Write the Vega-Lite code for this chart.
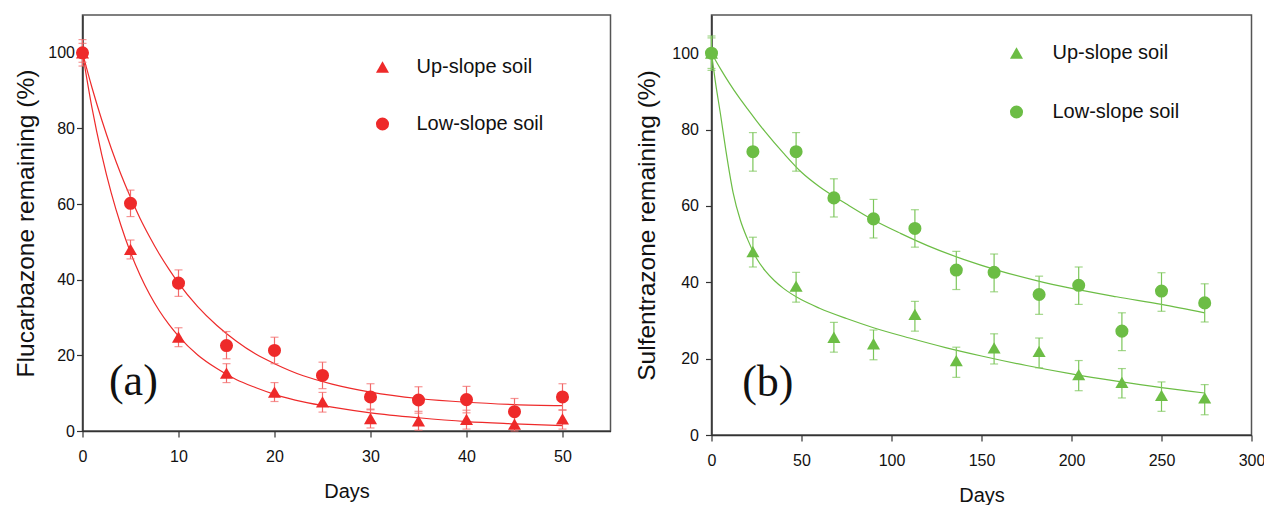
{
  "$schema": "https://vega.github.io/schema/vega-lite/v6.json",
  "padding": {"left": 12.5, "top": 14, "right": 0, "bottom": 0},
  "background": "white",
  "spacing": 22,
  "resolve": {"scale": {"shape": "independent"}, "legend": {"shape": "independent"}},
  "config": {
    "font": "Liberation Sans",
    "view": {"stroke": "#555", "strokeWidth": 1.5},
    "axis": {"grid": false, "domainColor": "#333", "domainWidth": 1.5, "tickColor": "#333", "tickWidth": 1.2, "tickSize": 6,
      "labelFont": "Liberation Sans", "labelFontSize": 16, "labelColor": "#111", "labelFlush": false,
      "titleFont": "Liberation Sans", "titleFontWeight": "normal", "titleColor": "#111"},
    "axisX": {"titleFontSize": 20, "labelPadding": 11, "titlePadding": 17},
    "axisY": {"titleFontSize": 24.5},
    "legend": {"labelFont": "Liberation Sans", "labelFontSize": 20, "labelColor": "#111", "symbolSize": 170, "padding": 0, "symbolStrokeWidth": 0}
  },
  "datasets": {
    "a_pts": [
      {"soil": "Up-slope soil", "day": 0, "value": 100, "lo": 97.5, "hi": 102.5},
      {"soil": "Up-slope soil", "day": 5, "value": 48, "lo": 45.5, "hi": 50.5},
      {"soil": "Up-slope soil", "day": 10, "value": 24.8, "lo": 22.3, "hi": 27.3},
      {"soil": "Up-slope soil", "day": 15, "value": 15.3, "lo": 12.8, "hi": 17.8},
      {"soil": "Up-slope soil", "day": 20, "value": 10.3, "lo": 7.8, "hi": 12.8},
      {"soil": "Up-slope soil", "day": 25, "value": 7.7, "lo": 5.0, "hi": 10.2},
      {"soil": "Up-slope soil", "day": 30, "value": 3.3, "lo": 0.8, "hi": 5.8},
      {"soil": "Up-slope soil", "day": 35, "value": 2.7, "lo": 0.2, "hi": 5.2},
      {"soil": "Up-slope soil", "day": 40, "value": 3.1, "lo": 0.5, "hi": 5.5},
      {"soil": "Up-slope soil", "day": 45, "value": 1.8, "lo": 0, "hi": 4.3},
      {"soil": "Up-slope soil", "day": 50, "value": 3.2, "lo": 0.5, "hi": 5.6},
      {"soil": "Low-slope soil", "day": 0, "value": 100, "lo": 96.5, "hi": 103.5},
      {"soil": "Low-slope soil", "day": 5, "value": 60.2, "lo": 56.7, "hi": 63.7},
      {"soil": "Low-slope soil", "day": 10, "value": 39.1, "lo": 35.6, "hi": 42.6},
      {"soil": "Low-slope soil", "day": 15, "value": 22.6, "lo": 19.1, "hi": 26.3},
      {"soil": "Low-slope soil", "day": 20, "value": 21.3, "lo": 17.8, "hi": 24.8},
      {"soil": "Low-slope soil", "day": 25, "value": 14.7, "lo": 11.2, "hi": 18.2},
      {"soil": "Low-slope soil", "day": 30, "value": 9.0, "lo": 5.6, "hi": 12.5},
      {"soil": "Low-slope soil", "day": 35, "value": 8.2, "lo": 4.7, "hi": 11.7},
      {"soil": "Low-slope soil", "day": 40, "value": 8.3, "lo": 4.8, "hi": 11.8},
      {"soil": "Low-slope soil", "day": 45, "value": 5.1, "lo": 1.8, "hi": 8.6},
      {"soil": "Low-slope soil", "day": 50, "value": 9.0, "lo": 5.5, "hi": 12.5}
    ],
    "a_curve": [
      {"soil": "Up-slope soil", "day": 0, "value": 100}, {"soil": "Up-slope soil", "day": 1, "value": 85.3},
      {"soil": "Up-slope soil", "day": 2, "value": 73.1}, {"soil": "Up-slope soil", "day": 3, "value": 62.9},
      {"soil": "Up-slope soil", "day": 4, "value": 54.4}, {"soil": "Up-slope soil", "day": 5, "value": 47.2},
      {"soil": "Up-slope soil", "day": 6, "value": 41.2}, {"soil": "Up-slope soil", "day": 7, "value": 36.1},
      {"soil": "Up-slope soil", "day": 8, "value": 31.8}, {"soil": "Up-slope soil", "day": 9, "value": 28.2},
      {"soil": "Up-slope soil", "day": 10, "value": 25.1}, {"soil": "Up-slope soil", "day": 12, "value": 20.1},
      {"soil": "Up-slope soil", "day": 14, "value": 16.5}, {"soil": "Up-slope soil", "day": 16, "value": 13.6},
      {"soil": "Up-slope soil", "day": 18, "value": 11.5}, {"soil": "Up-slope soil", "day": 20, "value": 9.7},
      {"soil": "Up-slope soil", "day": 23, "value": 7.7}, {"soil": "Up-slope soil", "day": 26, "value": 6.3},
      {"soil": "Up-slope soil", "day": 30, "value": 4.8}, {"soil": "Up-slope soil", "day": 35, "value": 3.5},
      {"soil": "Up-slope soil", "day": 40, "value": 2.5}, {"soil": "Up-slope soil", "day": 45, "value": 1.9},
      {"soil": "Up-slope soil", "day": 50, "value": 1.4},
      {"soil": "Low-slope soil", "day": 0, "value": 100}, {"soil": "Low-slope soil", "day": 1, "value": 90.7},
      {"soil": "Low-slope soil", "day": 2, "value": 82.3}, {"soil": "Low-slope soil", "day": 3, "value": 74.7},
      {"soil": "Low-slope soil", "day": 4, "value": 67.9}, {"soil": "Low-slope soil", "day": 5, "value": 61.8},
      {"soil": "Low-slope soil", "day": 6, "value": 56.2}, {"soil": "Low-slope soil", "day": 7, "value": 51.3},
      {"soil": "Low-slope soil", "day": 8, "value": 46.8}, {"soil": "Low-slope soil", "day": 9, "value": 42.8},
      {"soil": "Low-slope soil", "day": 10, "value": 39.1}, {"soil": "Low-slope soil", "day": 12, "value": 32.9},
      {"soil": "Low-slope soil", "day": 14, "value": 27.9}, {"soil": "Low-slope soil", "day": 16, "value": 23.8},
      {"soil": "Low-slope soil", "day": 18, "value": 20.4}, {"soil": "Low-slope soil", "day": 20, "value": 17.8},
      {"soil": "Low-slope soil", "day": 23, "value": 14.6}, {"soil": "Low-slope soil", "day": 26, "value": 12.4},
      {"soil": "Low-slope soil", "day": 30, "value": 10.3}, {"soil": "Low-slope soil", "day": 35, "value": 8.6},
      {"soil": "Low-slope soil", "day": 40, "value": 7.6}, {"soil": "Low-slope soil", "day": 45, "value": 7.0},
      {"soil": "Low-slope soil", "day": 50, "value": 6.7}
    ],
    "b_pts": [
      {"soil": "Up-slope soil", "day": 0, "value": 100, "lo": 96, "hi": 104},
      {"soil": "Up-slope soil", "day": 23, "value": 48, "lo": 44, "hi": 51.8},
      {"soil": "Up-slope soil", "day": 47, "value": 39, "lo": 34.8, "hi": 42.6},
      {"soil": "Up-slope soil", "day": 68, "value": 25.6, "lo": 21.7, "hi": 29.5},
      {"soil": "Up-slope soil", "day": 90, "value": 23.9, "lo": 19.7, "hi": 27.5},
      {"soil": "Up-slope soil", "day": 113, "value": 31.6, "lo": 27.2, "hi": 35.0},
      {"soil": "Up-slope soil", "day": 136, "value": 19.5, "lo": 15.1, "hi": 23.0},
      {"soil": "Up-slope soil", "day": 157, "value": 22.8, "lo": 18.6, "hi": 26.5},
      {"soil": "Up-slope soil", "day": 182, "value": 21.9, "lo": 17.6, "hi": 25.4},
      {"soil": "Up-slope soil", "day": 204, "value": 15.8, "lo": 11.6, "hi": 19.5},
      {"soil": "Up-slope soil", "day": 228, "value": 13.8, "lo": 9.7, "hi": 17.4},
      {"soil": "Up-slope soil", "day": 250, "value": 10.4, "lo": 6.2, "hi": 13.9},
      {"soil": "Up-slope soil", "day": 274, "value": 9.7, "lo": 5.3, "hi": 13.2},
      {"soil": "Low-slope soil", "day": 0, "value": 100, "lo": 95.5, "hi": 104.5},
      {"soil": "Low-slope soil", "day": 23, "value": 74.2, "lo": 69.1, "hi": 79.2},
      {"soil": "Low-slope soil", "day": 47, "value": 74.2, "lo": 69.1, "hi": 79.2},
      {"soil": "Low-slope soil", "day": 68, "value": 62.1, "lo": 57.1, "hi": 67.1},
      {"soil": "Low-slope soil", "day": 90, "value": 56.6, "lo": 51.6, "hi": 61.7},
      {"soil": "Low-slope soil", "day": 113, "value": 54.1, "lo": 49.2, "hi": 59.0},
      {"soil": "Low-slope soil", "day": 136, "value": 43.2, "lo": 38.1, "hi": 48.1},
      {"soil": "Low-slope soil", "day": 157, "value": 42.6, "lo": 37.5, "hi": 47.4},
      {"soil": "Low-slope soil", "day": 182, "value": 36.8, "lo": 31.6, "hi": 41.6},
      {"soil": "Low-slope soil", "day": 204, "value": 39.2, "lo": 34.2, "hi": 44.0},
      {"soil": "Low-slope soil", "day": 228, "value": 27.2, "lo": 22.1, "hi": 32.0},
      {"soil": "Low-slope soil", "day": 250, "value": 37.7, "lo": 32.4, "hi": 42.5},
      {"soil": "Low-slope soil", "day": 274, "value": 34.6, "lo": 29.6, "hi": 39.6}
    ],
    "b_curve": [
      {"soil": "Up-slope soil", "day": 0, "value": 100}, {"soil": "Up-slope soil", "day": 2, "value": 93},
      {"soil": "Up-slope soil", "day": 5, "value": 84}, {"soil": "Up-slope soil", "day": 8, "value": 74.5},
      {"soil": "Up-slope soil", "day": 12, "value": 63.5}, {"soil": "Up-slope soil", "day": 16, "value": 56.3},
      {"soil": "Up-slope soil", "day": 20, "value": 51.3}, {"soil": "Up-slope soil", "day": 25, "value": 46.3},
      {"soil": "Up-slope soil", "day": 30, "value": 42.9}, {"soil": "Up-slope soil", "day": 35, "value": 40.4},
      {"soil": "Up-slope soil", "day": 40, "value": 38.4}, {"soil": "Up-slope soil", "day": 50, "value": 35.4},
      {"soil": "Up-slope soil", "day": 60, "value": 33.2}, {"soil": "Up-slope soil", "day": 75, "value": 30.5},
      {"soil": "Up-slope soil", "day": 90, "value": 28.1}, {"soil": "Up-slope soil", "day": 110, "value": 25.4},
      {"soil": "Up-slope soil", "day": 130, "value": 22.9}, {"soil": "Up-slope soil", "day": 150, "value": 20.7},
      {"soil": "Up-slope soil", "day": 175, "value": 18.2}, {"soil": "Up-slope soil", "day": 200, "value": 16.0},
      {"soil": "Up-slope soil", "day": 225, "value": 14.1}, {"soil": "Up-slope soil", "day": 250, "value": 12.4},
      {"soil": "Up-slope soil", "day": 274, "value": 11.0},
      {"soil": "Low-slope soil", "day": 0, "value": 100}, {"soil": "Low-slope soil", "day": 5, "value": 95.9},
      {"soil": "Low-slope soil", "day": 10, "value": 92.1}, {"soil": "Low-slope soil", "day": 15, "value": 88.6},
      {"soil": "Low-slope soil", "day": 20, "value": 85.4}, {"soil": "Low-slope soil", "day": 25, "value": 82.3},
      {"soil": "Low-slope soil", "day": 30, "value": 79.3}, {"soil": "Low-slope soil", "day": 40, "value": 73.8},
      {"soil": "Low-slope soil", "day": 50, "value": 68.8}, {"soil": "Low-slope soil", "day": 60, "value": 65.0},
      {"soil": "Low-slope soil", "day": 75, "value": 60.5}, {"soil": "Low-slope soil", "day": 90, "value": 56.3},
      {"soil": "Low-slope soil", "day": 105, "value": 52.8}, {"soil": "Low-slope soil", "day": 120, "value": 49.6},
      {"soil": "Low-slope soil", "day": 140, "value": 46.0}, {"soil": "Low-slope soil", "day": 160, "value": 43.0},
      {"soil": "Low-slope soil", "day": 180, "value": 40.5}, {"soil": "Low-slope soil", "day": 200, "value": 38.4},
      {"soil": "Low-slope soil", "day": 225, "value": 36.2}, {"soil": "Low-slope soil", "day": 250, "value": 34.2},
      {"soil": "Low-slope soil", "day": 274, "value": 32.0}
    ],
    "a_label": [{"label": "(a)", "day": 5.3, "value": 13}],
    "b_label": [{"label": "(b)", "day": 31.3, "value": 13.5}]
  },
  "hconcat": [
    {
      "width": 528,
      "height": 416,
      "encoding": {
        "x": {"field": "day", "type": "quantitative", "title": "Days", "scale": {"domain": [0, 55], "nice": false, "zero": false},
          "axis": {"values": [0, 10, 20, 30, 40, 50]}},
        "y": {"field": "value", "type": "quantitative", "title": "Flucarbazone remaining (%)", "scale": {"domain": [0, 110], "nice": false},
          "axis": {"values": [0, 20, 40, 60, 80, 100], "labelPadding": 2, "titlePadding": 9}}
      },
      "layer": [
        {"data": {"name": "a_curve"}, "mark": {"type": "line", "color": "#ee2a2a", "strokeWidth": 1.2, "interpolate": "monotone"},
          "encoding": {"detail": {"field": "soil"}}},
        {"data": {"name": "a_pts"}, "mark": {"type": "rule", "color": "#f26868", "strokeWidth": 1.2},
          "encoding": {"y": {"field": "lo", "type": "quantitative", "title": "Flucarbazone remaining (%)"}, "y2": {"field": "hi"}}},
        {"data": {"name": "a_pts"}, "mark": {"type": "tick", "orient": "horizontal", "size": 8, "thickness": 1.2, "color": "#f26868"},
          "encoding": {"y": {"field": "lo", "type": "quantitative", "title": "Flucarbazone remaining (%)"}}},
        {"data": {"name": "a_pts"}, "mark": {"type": "tick", "orient": "horizontal", "size": 8, "thickness": 1.2, "color": "#f26868"},
          "encoding": {"y": {"field": "hi", "type": "quantitative", "title": "Flucarbazone remaining (%)"}}},
        {"data": {"name": "a_pts"}, "mark": {"type": "point", "filled": true, "size": 170, "color": "#ee2a2a", "opacity": 1},
          "encoding": {"shape": {"field": "soil", "type": "nominal",
            "scale": {"domain": ["Up-slope soil", "Low-slope soil"], "range": ["triangle-up", "circle"]},
            "legend": {"title": null, "orient": "none", "legendX": 290, "legendY": 42, "rowPadding": 37, "labelOffset": 24,
              "symbolFillColor": "#ee2a2a", "symbolStrokeColor": "#ee2a2a"}}}},
        {"data": {"name": "a_label"}, "mark": {"type": "text", "font": "Liberation Serif", "fontSize": 44, "color": "#111"},
          "encoding": {"text": {"field": "label"}}}
      ]
    },
    {
      "width": 540,
      "height": 420,
      "encoding": {
        "x": {"field": "day", "type": "quantitative", "title": "Days", "scale": {"domain": [0, 300], "nice": false, "zero": false},
          "axis": {"values": [0, 50, 100, 150, 200, 250, 300]}},
        "y": {"field": "value", "type": "quantitative", "title": "Sulfentrazone remaining (%)", "scale": {"domain": [0, 110], "nice": false},
          "axis": {"values": [0, 20, 40, 60, 80, 100], "labelPadding": 7, "titlePadding": 12}}
      },
      "layer": [
        {"data": {"name": "b_curve"}, "mark": {"type": "line", "color": "#6cbd45", "strokeWidth": 1.2, "interpolate": "monotone"},
          "encoding": {"detail": {"field": "soil"}}},
        {"data": {"name": "b_pts"}, "mark": {"type": "rule", "color": "#7cc65a", "strokeWidth": 1.2},
          "encoding": {"y": {"field": "lo", "type": "quantitative", "title": "Sulfentrazone remaining (%)"}, "y2": {"field": "hi"}}},
        {"data": {"name": "b_pts"}, "mark": {"type": "tick", "orient": "horizontal", "size": 8, "thickness": 1.2, "color": "#7cc65a"},
          "encoding": {"y": {"field": "lo", "type": "quantitative", "title": "Sulfentrazone remaining (%)"}}},
        {"data": {"name": "b_pts"}, "mark": {"type": "tick", "orient": "horizontal", "size": 8, "thickness": 1.2, "color": "#7cc65a"},
          "encoding": {"y": {"field": "hi", "type": "quantitative", "title": "Sulfentrazone remaining (%)"}}},
        {"data": {"name": "b_pts"}, "mark": {"type": "point", "filled": true, "size": 170, "color": "#6cbd45", "opacity": 1},
          "encoding": {"shape": {"field": "soil", "type": "nominal",
            "scale": {"domain": ["Up-slope soil", "Low-slope soil"], "range": ["triangle-up", "circle"]},
            "legend": {"title": null, "orient": "none", "legendX": 295, "legendY": 28, "rowPadding": 39, "labelOffset": 26,
              "symbolFillColor": "#6cbd45", "symbolStrokeColor": "#6cbd45"}}}},
        {"data": {"name": "b_label"}, "mark": {"type": "text", "font": "Liberation Serif", "fontSize": 44, "color": "#111"},
          "encoding": {"text": {"field": "label"}}}
      ]
    }
  ]
}
